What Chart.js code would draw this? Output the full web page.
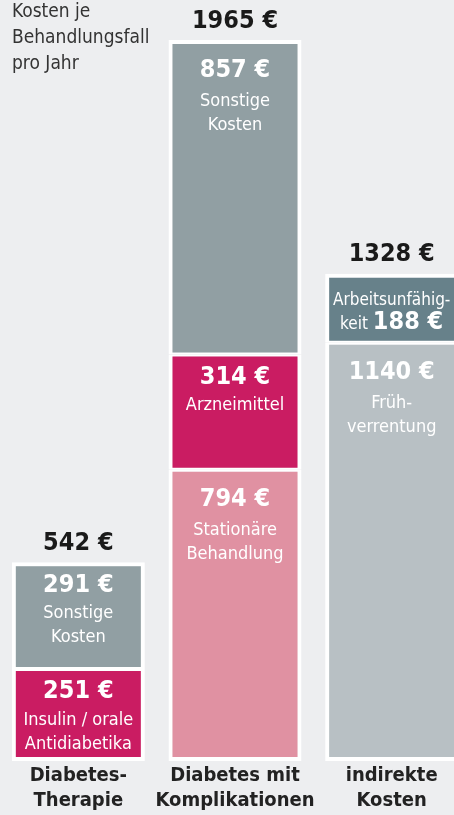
<!DOCTYPE html>
<html>
<head>
<meta charset="utf-8">
<script src="https://cdn.jsdelivr.net/npm/chart.js@4/dist/chart.umd.min.js"></script>
<style>
  html, body { margin: 0; padding: 0; background: #edeef0; overflow: hidden; }
  #wrap { width: 470px; height: 815px; }
</style>
</head>
<body>
<div id="wrap"><canvas id="costChart" width="470" height="815"></canvas></div>
<script>
    const FONT = "'DejaVu Sans Condensed', 'DejaVu Sans', sans-serif";

    const categories = [['Diabetes-', 'Therapie'], ['Diabetes mit', 'Komplikationen'], ['indirekte', 'Kosten']];
    const titleLines = ['Kosten je', 'Behandlungsfall', 'pro Jahr'];

    // stacked from bottom to top, values in euro
    const costBottom = [251, 794, 1140];
    const costMiddle = [291, 314, 188];
    const costTop = [null, 857, null];

    const namesBottom = [['Insulin / orale', 'Antidiabetika'], ['Stationäre', 'Behandlung'], ['Früh-', 'verrentung']];
    const namesMiddle = [['Sonstige', 'Kosten'], ['Arzneimittel'], ['Arbeitsunfähig-', 'keit']];
    const namesTop = [null, ['Sonstige', 'Kosten'], null];

    const colorsBottom = ['#ca1c62', '#e091a2', '#b8c0c4'];
    const colorsMiddle = ['#919fa3', '#ca1c62', '#67818a'];
    const colorsTop = ['#919fa3', '#919fa3', '#919fa3'];

    const stacks = [costBottom, costMiddle, costTop];
    const names = [namesBottom, namesMiddle, namesTop];

    function isTopSegment(d, i) {
      for (let k = d + 1; k < stacks.length; k++) {
        if (stacks[k][i] != null) return false;
      }
      return true;
    }

    function euro(v) {
      return v + ' €';
    }

    const labelPlugin = {
      id: 'costLabels',
      afterDatasetsDraw(chart) {
        const ctx = chart.ctx;
        ctx.save();
        ctx.textAlign = 'center';
        ctx.textBaseline = 'middle';

        // segment labels
        chart.data.datasets.forEach((ds, d) => {
          const meta = chart.getDatasetMeta(d);
          meta.data.forEach((bar, i) => {
            const v = ds.data[i];
            if (v == null) return;
            const top = bar.y;
            const h = bar.base - bar.y;
            const lines = names[d][i] || [];
            ctx.fillStyle = '#ffffff';
            if (h < 80) {
              // small segment: name on two lines, value inline with the last one
              ctx.font = '17px ' + FONT;
              ctx.fillText(lines[0], bar.x, top + 27);
              const word = lines[1] + ' ';
              const regW = ctx.measureText(word).width;
              ctx.font = 'bold 25px ' + FONT;
              const valW = ctx.measureText(euro(v)).width;
              let x = bar.x - (regW + valW) / 2;
              ctx.textAlign = 'left';
              ctx.font = '17px ' + FONT;
              ctx.fillText(word, x, top + 51);
              ctx.font = 'bold 25px ' + FONT;
              ctx.fillText(euro(v), x + regW, top + 49);
              ctx.textAlign = 'center';
            } else {
              const big = h >= 130;
              const vOff = big ? 30 : 23;
              const lOff = big ? 61 : 51;
              ctx.font = 'bold 25px ' + FONT;
              ctx.fillText(euro(v), bar.x, top + vOff);
              ctx.font = '18px ' + FONT;
              lines.forEach((t, n) => ctx.fillText(t, bar.x, top + lOff + n * 24));
            }
          });
        });

        // totals above each bar
        ctx.fillStyle = '#1a1a1a';
        ctx.font = 'bold 25px ' + FONT;
        categories.forEach((c, i) => {
          let total = 0;
          let top = Infinity;
          let x = 0;
          chart.data.datasets.forEach((ds, d) => {
            const v = ds.data[i];
            if (v == null) return;
            total += v;
            const bar = chart.getDatasetMeta(d).data[i];
            top = Math.min(top, bar.y);
            x = bar.x;
          });
          ctx.fillText(euro(total), x, top - 19);
        });

        // unit note, top left
        ctx.textAlign = 'left';
        ctx.textBaseline = 'alphabetic';
        ctx.fillStyle = '#333333';
        ctx.font = '19px ' + FONT;
        titleLines.forEach((t, n) => ctx.fillText(t, 12, 17 + n * 26));
        ctx.restore();
      }
    };

    function makeDataset(data, colors, d) {
      return {
        data: data,
        backgroundColor: colors,
        borderColor: '#ffffff',
        borderWidth: (c) => ({
          left: 4,
          right: 4,
          top: isTopSegment(d, c.dataIndex) ? 4 : 2,
          bottom: d === 0 ? 4 : 2
        }),
        borderSkipped: false,
        inflateAmount: 0,
        barThickness: 133
      };
    }

    const chart = new Chart(document.getElementById('costChart').getContext('2d'), {
      type: 'bar',
      data: {
        labels: categories,
        datasets: [
          makeDataset(costBottom, colorsBottom, 0),
          makeDataset(costMiddle, colorsMiddle, 1),
          makeDataset(costTop, colorsTop, 2)
        ]
      },
      options: {
        responsive: false,
        animation: false,
        layout: { padding: { top: 40, left: 0, right: 0, bottom: 0 } },
        plugins: {
          legend: { display: false },
          tooltip: { enabled: false }
        },
        scales: {
          x: {
            stacked: true,
            grid: { display: false, drawTicks: false },
            border: { display: false },
            ticks: {
              color: '#222222',
              padding: 2,
              maxRotation: 0,
              autoSkip: false,
              font: { family: FONT, size: 20, weight: 'bold', lineHeight: 1.25 }
            }
          },
          y: {
            stacked: true,
            display: false,
            min: 0,
            max: 1965
          }
        }
      },
      plugins: [labelPlugin]
    });
</script>
</body>
</html>
